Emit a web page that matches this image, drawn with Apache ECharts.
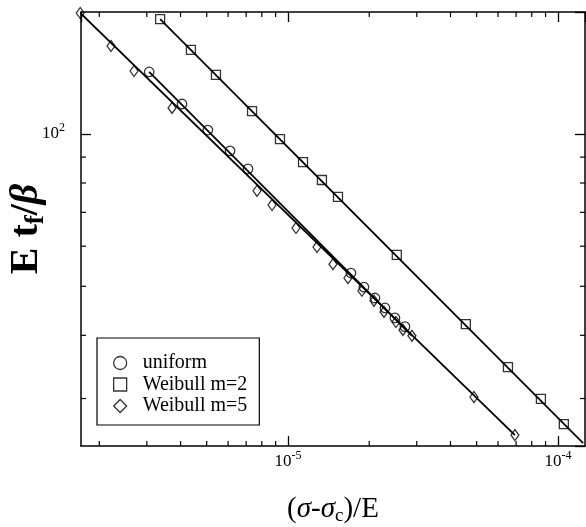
<!DOCTYPE html>
<html>
<head>
<meta charset="utf-8">
<script src="https://cdn.jsdelivr.net/npm/echarts@6/dist/echarts.min.js"></script>
<style>
html,body{margin:0;padding:0;background:#fff;}
#c{width:586px;height:527px;}
</style>
</head>
<body>
<div id="c"></div>
<script>
// ---- data ----
const uniformX = [3.06e-6, 4.05e-6, 5.05e-6, 6.10e-6, 7.11e-6, 1.711e-5, 1.912e-5, 2.10e-5, 2.288e-5, 2.49e-5, 2.712e-5];
const uniformY = [132.6, 114.6, 101.8, 92.6, 85.3, 53.1, 49.8, 47.4, 45.3, 43.3, 41.6];

const weibull2X = [3.36e-6, 4.37e-6, 5.41e-6, 7.36e-6, 9.34e-6, 1.137e-5, 1.336e-5, 1.532e-5, 2.53e-5, 4.56e-5, 6.53e-5, 8.65e-5, 1.052e-4];
const weibull2Y = [168.7, 146.6, 130.8, 111.0, 97.7, 88.0, 81.1, 75.1, 57.7, 42.1, 34.6, 29.95, 26.7];

const weibull5X = [1.70e-6, 2.21e-6, 2.69e-6, 3.72e-6, 7.68e-6, 8.73e-6, 1.071e-5, 1.281e-5, 1.468e-5, 1.668e-5, 1.879e-5, 2.083e-5, 2.268e-5, 2.512e-5, 2.667e-5, 2.879e-5, 4.886e-5, 6.93e-5];
const weibull5Y = [173.4, 149.2, 133.2, 112.6, 77.2, 72.4, 65.2, 59.8, 55.3, 51.9, 49.0, 46.8, 44.5, 42.5, 41.0, 39.9, 30.2, 25.4];

// fitted power-law lines (end points)
const uniformFitX = [3.06e-6, 2.88e-5];
const uniformFitY = [132.6, 39.9];
const weibull2FitX = [3.36e-6, 1.24e-4];
const weibull2FitY = [168.7, 24.5];
const weibull5FitX = [1.70e-6, 6.93e-5];
const weibull5FitY = [173.4, 25.4];

const seriesNames = ['uniform', 'Weibull m=2', 'Weibull m=5'];

// axis ranges and minor tick values
const xMin = 1.711e-6, xMax = 1.26e-4;
const yMin = 24.17, yMax = 174.2;
const xMinorTicks = [2e-6, 3e-6, 4e-6, 5e-6, 6e-6, 7e-6, 8e-6, 9e-6, 2e-5, 3e-5, 4e-5, 5e-5, 6e-5, 7e-5, 8e-5, 9e-5];
const yMinorTicks = [30, 40, 50, 60, 70, 80, 90];

const zip = (a, b) => a.map((v, i) => [v, b[i]]);
const FONT = '"Liberation Serif", "DejaVu Serif", serif';

function powLabel(v) {
  const e = Math.log10(v);
  const r = Math.round(e);
  if (Math.abs(e - r) > 1e-6) return '';
  return '{b|10}{s|' + r + '}';
}
const labelRich = {
  b: {fontFamily: FONT, fontSize: 17, lineHeight: 24, verticalAlign: 'middle', color: '#000'},
  s: {fontFamily: FONT, fontSize: 12, lineHeight: 11, verticalAlign: 'top', color: '#000'}
};

const axisLine = {show: true, onZero: false, lineStyle: {color: '#000', width: 1.5}};
const majorTick = {show: true, inside: true, length: 10, lineStyle: {color: '#000', width: 1.3}};

const markerStyle = {color: 'rgba(0,0,0,0)', borderColor: '#000', borderWidth: 1.3};
const lineStyle = {color: '#000', width: 1.8};

function tickRenderer(kind) {
  return function (params, api) {
    const cs = params.coordSys;
    const p = api.coord([api.value(0), api.value(1)]);
    const st = {stroke: '#000', lineWidth: 1.2};
    if (kind === 'x') {
      const yb = cs.y + cs.height, yt = cs.y;
      return {type: 'group', children: [
        {type: 'line', shape: {x1: p[0], y1: yb, x2: p[0], y2: yb - 5}, style: st},
        {type: 'line', shape: {x1: p[0], y1: yt, x2: p[0], y2: yt + 5}, style: st}
      ]};
    } else {
      const xl = cs.x, xr = cs.x + cs.width;
      return {type: 'group', children: [
        {type: 'line', shape: {x1: xl, y1: p[1], x2: xl + 5, y2: p[1]}, style: st},
        {type: 'line', shape: {x1: xr, y1: p[1], x2: xr - 5, y2: p[1]}, style: st}
      ]};
    }
  };
}

const chart = echarts.init(document.getElementById('c'), null, {renderer: 'canvas'});
chart.setOption({
  animation: false,
  backgroundColor: '#fff',
  grid: {left: 81, right: 1, top: 12, bottom: 81, containLabel: false, outerBoundsMode: 'none'},
  legend: {
    data: seriesNames,
    orient: 'vertical',
    left: 97, top: 338,
    padding: [15, 12, 9, 16],
    itemWidth: 13, itemHeight: 13, itemGap: 1.5,
    selectedMode: false,
    borderColor: '#000', borderWidth: 1.2, borderRadius: 0,
    backgroundColor: '#fff',
    itemStyle: {color: 'rgba(0,0,0,0)', borderColor: '#000', borderWidth: 1.3},
    textStyle: {fontFamily: FONT, fontSize: 20, lineHeight: 20, color: '#000', padding: [0, 0, 0, 11]}
  },
  xAxis: [
    {
      type: 'log', logBase: 10, min: xMin, max: xMax, position: 'bottom',
      axisLine: axisLine, axisTick: majorTick, splitLine: {show: false},
      axisLabel: {show: true, margin: 4, formatter: powLabel, rich: labelRich, showMinLabel: false, showMaxLabel: false},
      name: '{n|(}{i|σ}{n|-}{i|σ}{c|c}{n|)/E}',
      nameLocation: 'middle', nameGap: 46, nameMoveOverlap: false,
      nameTextStyle: {rich: {
        n: {fontFamily: FONT, fontSize: 29, lineHeight: 34, verticalAlign: 'middle', color: '#000'},
        i: {fontFamily: FONT, fontSize: 29, fontStyle: 'italic', lineHeight: 34, verticalAlign: 'middle', color: '#000'},
        c: {fontFamily: FONT, fontSize: 19, lineHeight: 14, verticalAlign: 'bottom', color: '#000'}
      }}
    },
    {
      type: 'log', logBase: 10, min: xMin, max: xMax, position: 'top',
      axisLine: axisLine, axisTick: majorTick, splitLine: {show: false},
      axisLabel: {show: false}
    }
  ],
  yAxis: [
    {
      type: 'log', logBase: 10, min: yMin, max: yMax, position: 'left',
      axisLine: axisLine, axisTick: majorTick, splitLine: {show: false},
      axisLabel: {show: true, margin: 16, formatter: powLabel, rich: labelRich, showMinLabel: false, showMaxLabel: false},
      name: '{b|E t}{f|f}{b|/}{g|β}',
      nameLocation: 'middle', nameGap: 31, nameRotate: 90, nameMoveOverlap: false,
      nameTextStyle: {rich: {
        b: {fontFamily: FONT, fontSize: 40, fontWeight: 'bold', lineHeight: 46, verticalAlign: 'middle', color: '#000'},
        f: {fontFamily: FONT, fontSize: 27, fontWeight: 'bold', lineHeight: 22, verticalAlign: 'bottom', color: '#000'},
        g: {fontFamily: FONT, fontSize: 40, fontWeight: 'bold', fontStyle: 'italic', lineHeight: 46, verticalAlign: 'middle', color: '#000'}
      }}
    },
    {
      type: 'log', logBase: 10, min: yMin, max: yMax, position: 'right',
      axisLine: axisLine, axisTick: majorTick, splitLine: {show: false},
      axisLabel: {show: false}
    }
  ],
  series: [
    {name: 'fit uniform', type: 'line', data: zip(uniformFitX, uniformFitY), symbol: 'none', lineStyle: lineStyle, z: 1, silent: true},
    {name: 'fit m2', type: 'line', data: zip(weibull2FitX, weibull2FitY), symbol: 'none', lineStyle: lineStyle, z: 1, silent: true},
    {name: 'fit m5', type: 'line', data: zip(weibull5FitX, weibull5FitY), symbol: 'none', lineStyle: lineStyle, z: 1, silent: true},
    {name: seriesNames[0], type: 'scatter', data: zip(uniformX, uniformY), symbol: 'circle', symbolSize: 9.5, itemStyle: markerStyle, clip: false, z: 3},
    {name: seriesNames[1], type: 'scatter', data: zip(weibull2X, weibull2Y), symbol: 'rect', symbolSize: 9, itemStyle: markerStyle, clip: false, z: 3},
    {name: seriesNames[2], type: 'scatter', data: zip(weibull5X, weibull5Y), symbol: 'diamond', symbolSize: [8, 11], itemStyle: markerStyle, clip: false, z: 3},
    {name: 'xminor', type: 'custom', data: xMinorTicks.map(v => [v, 100]), renderItem: tickRenderer('x'), silent: true, clip: false, z: 2},
    {name: 'yminor', type: 'custom', data: yMinorTicks.map(v => [1e-5, v]), renderItem: tickRenderer('y'), silent: true, clip: false, z: 2}
  ]
});
</script>
</body>
</html>
